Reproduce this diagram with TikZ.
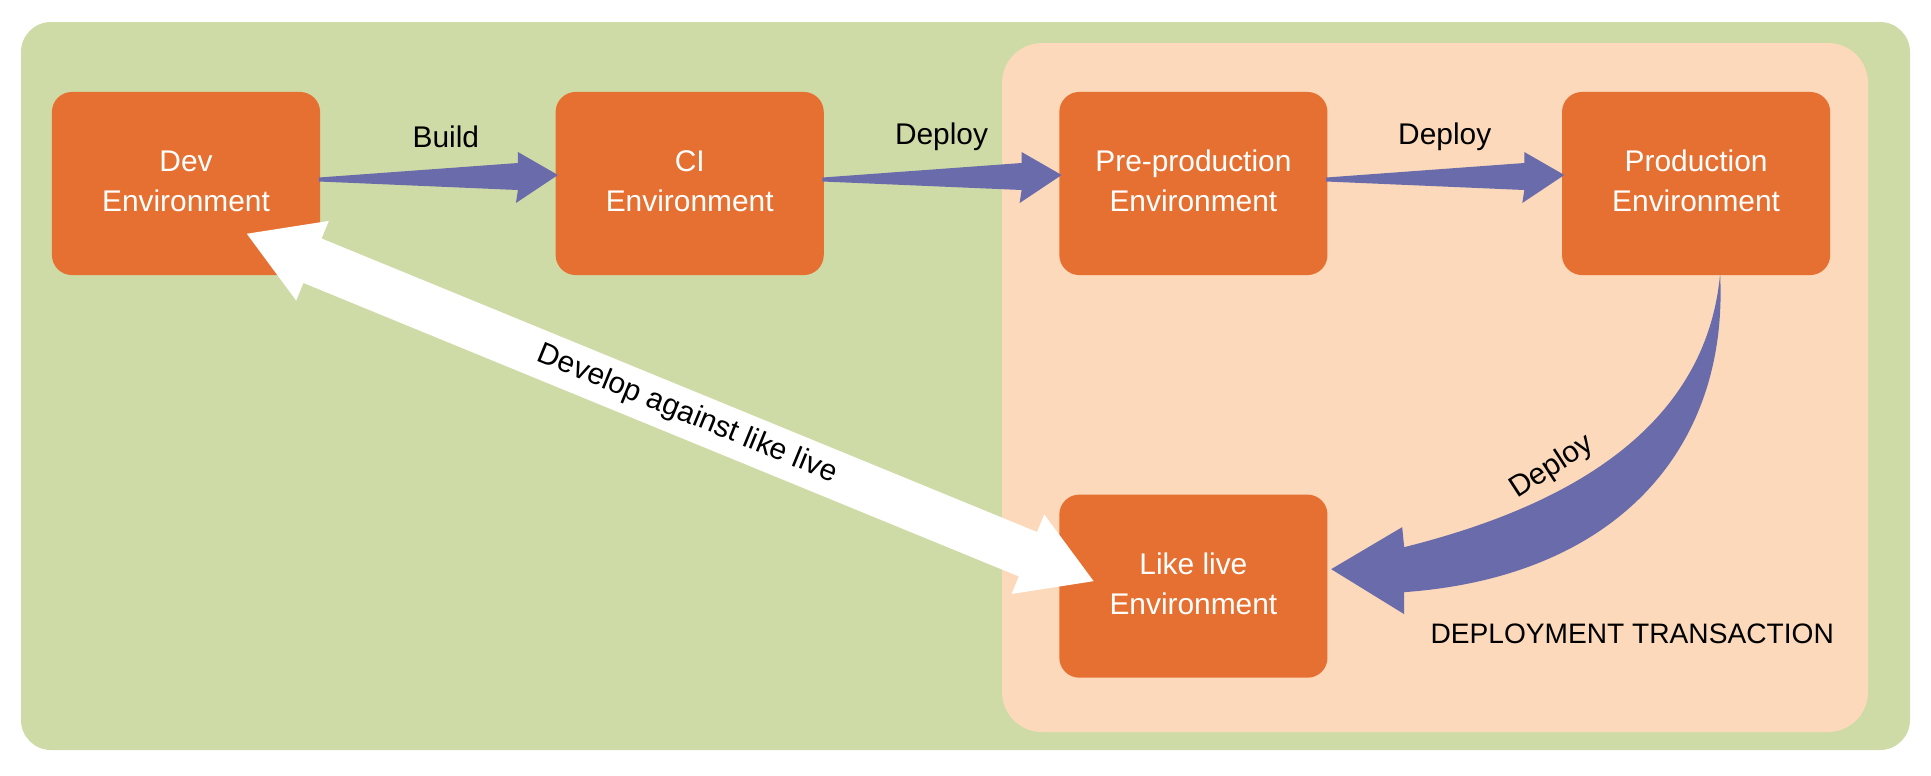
\documentclass[tikz,border=0pt]{standalone}
\usepackage{fontspec}
\setmainfont{Liberation Sans}
\usetikzlibrary{positioning}
\usetikzlibrary{calc}
\definecolor{bggreen}{RGB}{207,219,166}
\definecolor{bgpink}{RGB}{251,217,186}
\definecolor{envorange}{RGB}{230,112,49}
\definecolor{deployblue}{RGB}{106,107,171}
\tikzset{
    envbox/.style={
           rectangle,
           rounded corners=0.2cm,
           fill=envorange,
           text=white,
           minimum width=2.68cm,
           minimum height=1.83cm,
           inner sep=2pt,
           text centered,
           font=\fontsize{8.5}{11.4}\selectfont,
           },
    arrowlabel/.style={
           %rectangle,
           %draw=black,
           inner sep=0pt,
           text=black,
           font=\fontsize{8.5}{11.4}\selectfont,
           },
    flatarrow/.style={
           fill=deployblue,
           },
}

\begin{document}
\begin{tikzpicture}[x=0.01cm, y=0.01cm]
	\useasboundingbox (0,0) rectangle (1931,-775);
	
	%backgrounds
	\fill[bggreen, rounded corners=0.3cm] (21,-22) rectangle (1910,-750);
	\fill[bgpink, rounded corners=0.4cm] (1002,-43) rectangle (1868,-732);
	
	%environments
	\node[envbox] (dev) at (186,-183.5) {\begin{tabular}{c}
										Dev\\ Environment
									\end{tabular}};
	\node[envbox, right=2.34cm of dev] (ci) {\begin{tabular}{c}
										CI\\ Environment
									\end{tabular}};
	\node[envbox, right=2.34cm of ci] (pre) {\begin{tabular}{c}
										Pre-production\\ Environment
									\end{tabular}};
	\node[envbox, right=2.33cm of pre] (prod) {\begin{tabular}{c}
										Production\\ Environment
									\end{tabular}};
	\node[envbox, below=2.18cm of pre] (like) {\begin{tabular}{c}
										Like live\\ Environment
									\end{tabular}};
	
	
	%EDGES
	
	\fill[flatarrow] ($(dev.east)+(-2,6)$) -- ($(ci.west)+(-37,20.5)$) -- ($(ci.west)+(-37,31.5)$)
					-- ($(ci.west)+(3,8.5)$) -- ($(ci.west)+(-39,-19.5)$) -- ($(ci.west)+(-37,-6.5)$)
					-- ($(dev.east)+(-2,2)$) -- cycle;
	\fill[flatarrow] ($(ci.east)+(-2,6)$) -- ($(pre.west)+(-37,20.5)$) -- ($(pre.west)+(-37,31.5)$)
					-- ($(pre.west)+(3,8.5)$) -- ($(pre.west)+(-39,-19.5)$) -- ($(pre.west)+(-37,-6.5)$)
					-- ($(ci.east)+(-2,2)$) -- cycle;
	\fill[flatarrow] ($(pre.east)+(-2,6)$) -- ($(prod.west)+(-37,20.5)$) -- ($(prod.west)+(-37,31.5)$)
					-- ($(prod.west)+(3,8.5)$) -- ($(prod.west)+(-39,-19.5)$) -- ($(prod.west)+(-37,-6.5)$)
					-- ($(pre.east)+(-2,2)$) -- cycle;
	
	\node[arrowlabel] (lbuild) at ($(dev.east)!0.5!(ci.west)+(8,47)$) {Build};
	\node[arrowlabel] (ldeploya) at ($(ci.east)!0.5!(pre.west)+(0,47)$) {Deploy};
	\node[arrowlabel] (ldeployb) at ($(pre.east)!0.5!(prod.west)+(0,47)$) {Deploy};
	
	%curved deploy
	\coordinate (deptail) at ($(prod.south)+(24,2)$);
	\coordinate (dephead) at ($(like.east)+(3,17)$);
	\fill[flatarrow] (deptail) .. controls ($(deptail)+(9,-177)$) and ($(dephead)+(283,-8)$) .. ($(dephead)+(73,-23)$)
					-- ($(dephead)+(73,-45)$) -- (dephead) -- ($(dephead)+(71,42)$) -- ($(dephead)+(73,22)$)
					.. controls ($(dephead)+(213,57)$) and ($(deptail)+(-15,-167)$) .. (deptail) -- cycle;
	\node[arrowlabel, rotate=33] (ldeployc) at ($(dephead)+(221,102)$) {Deploy};
	
	%like live
	\coordinate (devtip) at ($(dev.south east)+(-74,42)$);
	\coordinate (liketip) at ($(like.west)+(35,5)$);
	\fill[white] (devtip) -- ($(devtip)!0.71cm!(liketip)!0.43cm!90:(liketip)$)
					-- ($(devtip)!0.71cm!(liketip)!0.24cm!90:(liketip)$)
					-- ($(liketip)!0.71cm!(devtip)!0.24cm!-90:(devtip)$)
					-- ($(liketip)!0.71cm!(devtip)!0.43cm!-90:(devtip)$)
					-- (liketip)
					-- ($(liketip)!0.71cm!(devtip)!0.43cm!90:(devtip)$)
					-- ($(liketip)!0.71cm!(devtip)!0.24cm!90:(devtip)$)
					-- ($(devtip)!0.71cm!(liketip)!0.24cm!-90:(liketip)$)
					-- ($(devtip)!0.71cm!(liketip)!0.43cm!-90:(liketip)$) -- cycle;
	\path (devtip) -- node[arrowlabel, sloped, pos=0.52] (ldevelop) {Develop against like live} (liketip);
	
	\node[arrowlabel, font=\fontsize{8}{10}\selectfont] (ltrans) at ($(like.east)+(304,-48)$) {DEPLOYMENT TRANSACTION};
	
\end{tikzpicture}
\end{document}
